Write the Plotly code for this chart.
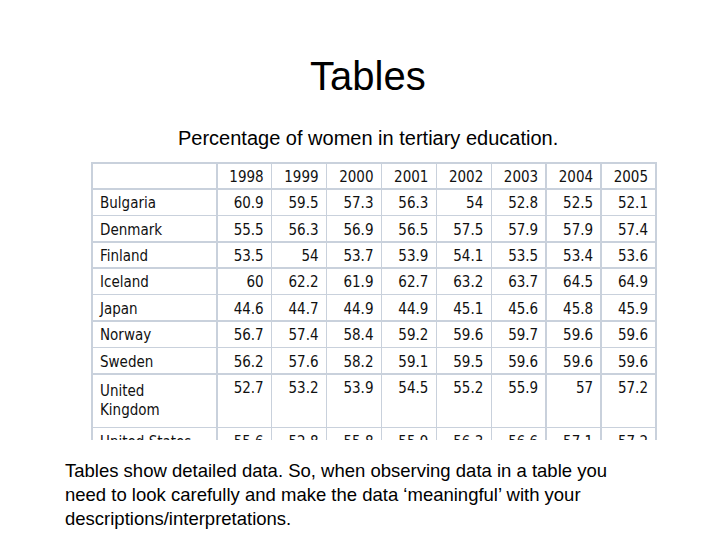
import plotly.graph_objects as go

countries = ["Bulgaria", "Denmark", "Finland", "Iceland", "Japan", "Norway",
             "Sweden", "United Kingdom", "United States"]
years = ["1998", "1999", "2000", "2001", "2002", "2003", "2004", "2005"]
y1998 = [60.9, 55.5, 53.5, 60, 44.6, 56.7, 56.2, 52.7, 55.6]
y1999 = [59.5, 56.3, 54, 62.2, 44.7, 57.4, 57.6, 53.2, 52.8]
y2000 = [57.3, 56.9, 53.7, 61.9, 44.9, 58.4, 58.2, 53.9, 55.8]
y2001 = [56.3, 56.5, 53.9, 62.7, 44.9, 59.2, 59.1, 54.5, 55.9]
y2002 = [54, 57.5, 54.1, 63.2, 45.1, 59.6, 59.5, 55.2, 56.3]
y2003 = [52.8, 57.9, 53.5, 63.7, 45.6, 59.7, 59.6, 55.9, 56.6]
y2004 = [52.5, 57.9, 53.4, 64.5, 45.8, 59.6, 59.6, 57, 57.1]
y2005 = [52.1, 57.4, 53.6, 64.9, 45.9, 59.6, 59.6, 57.2, 57.2]

cols = [y1998, y1999, y2000, y2001, y2002, y2003, y2004, y2005]
fmt = lambda v: str(int(v)) if v == int(v) else str(v)

font = dict(family="DejaVu Sans Condensed, Liberation Sans Narrow, Liberation Sans", size=15, color="#111")
line = dict(color="#c9d1dc", width=1.5)

fig = go.Figure(go.Table(
    domain=dict(x=[84/720, 648/720], y=[0.2, 1 - 155/540]),
    columnwidth=[125] + [55]*8,
    header=dict(values=[""] + years, align=["left"] + ["right"]*8,
                font=font, fill_color="white", line=line, height=26),
    cells=dict(values=[countries] + [[fmt(v) for v in c] for c in cols],
               align=["left"] + ["right"]*8, font=font,
               fill_color="white", line=line, height=26.4),
))

fig.add_annotation(x=0.5, y=1 - 68/540, yanchor="middle", text="Tables", showarrow=False,
                   font=dict(family="Liberation Sans, Arial", size=40, color="black"))
fig.add_annotation(x=0.5, y=1 - 130/540, yanchor="middle",
                   text="Percentage of women in tertiary education.",
                   showarrow=False, font=dict(family="Liberation Sans, Arial", size=20, color="black"))
fig.add_annotation(x=55/720, y=1 - 450/540, xanchor="left", yanchor="top", align="left",
                   text="Tables show detailed data. So, when observing data in a table you<br>"
                        "need to look carefully and make the data ‘meaningful’ with your<br>"
                        "descriptions/interpretations.",
                   showarrow=False,
                   font=dict(family="Liberation Sans, Arial", size=18.5, color="black"))
for a in fig.layout.annotations:
    a.xref = "paper"
    a.yref = "paper"

fig.update_layout(width=720, height=540, margin=dict(l=0, r=0, t=0, b=0),
                  paper_bgcolor="white", plot_bgcolor="white")
fig.write_html("out.html")
